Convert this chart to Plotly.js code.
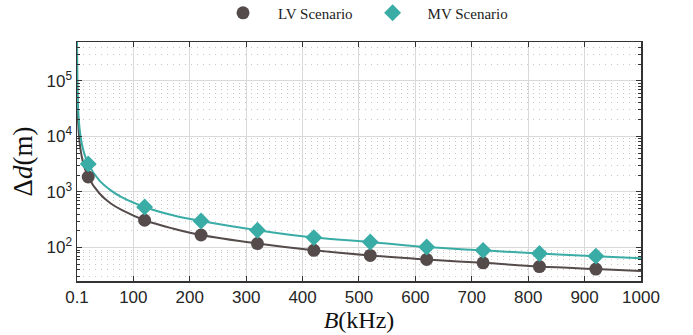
<!DOCTYPE html>
<html>
<head>
<meta charset="utf-8">
<script src="https://cdn.plot.ly/plotly-3.0.1.min.js"></script>
<style>html,body{margin:0;padding:0;background:#fff;}#chart{width:693px;height:335px;}</style>
</head>
<body>
<div id="chart"></div>
<script>
// Marker data
const markerB = [20, 120, 220, 320, 420, 520, 620, 720, 820, 920];
const lvMarkers = [1860, 310, 168, 118, 89, 72, 61, 53, 45.5, 41];
const mvMarkers = [3200, 537, 300, 205, 151, 126, 102, 89, 78, 70];

// Curve data
const curveB = [0.1, 0.5, 1, 2, 5, 10, 20, 40, 60, 80, 120, 170, 220, 320, 420, 520, 620, 720, 820, 920, 1000];
const lvCurve = [370000, 75000, 37000, 19000, 7500, 3700, 1860, 940, 620, 470, 310, 220, 168, 118, 89, 72, 61, 53, 45.5, 41, 38];
const mvCurve = [640000, 130000, 64000, 32000, 13000, 6400, 3200, 1600, 1070, 800, 537, 380, 300, 205, 151, 126, 102, 89, 78, 70, 64];

const xTicks = [0.1, 100, 200, 300, 400, 500, 600, 700, 800, 900, 1000];
const xTickText = ['0.1', '100', '200', '300', '400', '500', '600', '700', '800', '900', '1000'];
const yTicks = [100, 1000, 10000, 100000];
const yTickText = ['10<sup>2</sup>', '10<sup>3</sup>', '10<sup>4</sup>', '10<sup>5</sup>'];

const lvColor = '#554b4b';
const mvColor = '#3aaca6';
const serif = '"Liberation Serif", "DejaVu Serif", serif';
const sp = '\u2003';

const traces = [
  {x: curveB, y: lvCurve, mode: 'lines', line: {color: lvColor, width: 2, shape: 'spline'}, showlegend: false, hoverinfo: 'skip'},
  {x: curveB, y: mvCurve, mode: 'lines', line: {color: mvColor, width: 2, shape: 'spline'}, showlegend: false, hoverinfo: 'skip'},
  {x: markerB, y: lvMarkers, mode: 'markers', name: sp + 'LV Scenario' + sp, marker: {symbol: 'circle', size: 13, color: lvColor}},
  {x: markerB, y: mvMarkers, mode: 'markers', name: sp + 'MV Scenario', marker: {symbol: 'diamond', size: 13, color: mvColor}}
];

const layout = {
  width: 693, height: 335,
  margin: {l: 77, r: 52, t: 42, b: 54},
  paper_bgcolor: '#fff', plot_bgcolor: '#fff',
  font: {family: '"Liberation Sans", Arial, sans-serif', color: '#262626', size: 16},
  showlegend: true,
  legend: {orientation: 'h', x: 0.516, xanchor: 'center', y: 0.961, yref: 'container', yanchor: 'middle',
           font: {family: serif, size: 15, color: '#222'}, traceorder: 'normal'},
  xaxis: {
    type: 'linear', range: [0.1, 1000],
    tickmode: 'array', tickvals: xTicks, ticktext: xTickText,
    showgrid: true, gridcolor: '#d9d9d9', gridwidth: 1,
    ticks: 'inside', ticklen: 5, tickcolor: '#333', mirror: 'ticks',
    showline: true, linecolor: '#333', linewidth: 1.5,
    zeroline: false,
    tickfont: {size: 17, color: '#262626'},
    title: {text: '<i>B</i>(kHz)', font: {family: serif, size: 24, color: '#111'}, standoff: 4}
  },
  yaxis: {
    type: 'log', range: [Math.log10(25), Math.log10(500000)],
    tickmode: 'array', tickvals: yTicks, ticktext: yTickText,
    showgrid: true, gridcolor: '#d9d9d9', gridwidth: 1,
    ticks: 'inside', ticklen: 5, tickcolor: '#333', mirror: 'ticks',
    showline: true, linecolor: '#333', linewidth: 1.5,
    zeroline: false,
    tickfont: {size: 17, color: '#262626'},
    minor: {dtick: 'D1', showgrid: true, gridcolor: '#c8c8c8', griddash: '1px,5px', gridwidth: 1, ticks: 'inside', ticklen: 3, tickcolor: '#333'},
    title: {text: 'Δ<i>d</i>(m)', font: {family: serif, size: 27, color: '#111'}, standoff: 6}
  }
};

Plotly.newPlot('chart', traces, layout, {staticPlot: true, displayModeBar: false});
</script>
</body>
</html>
